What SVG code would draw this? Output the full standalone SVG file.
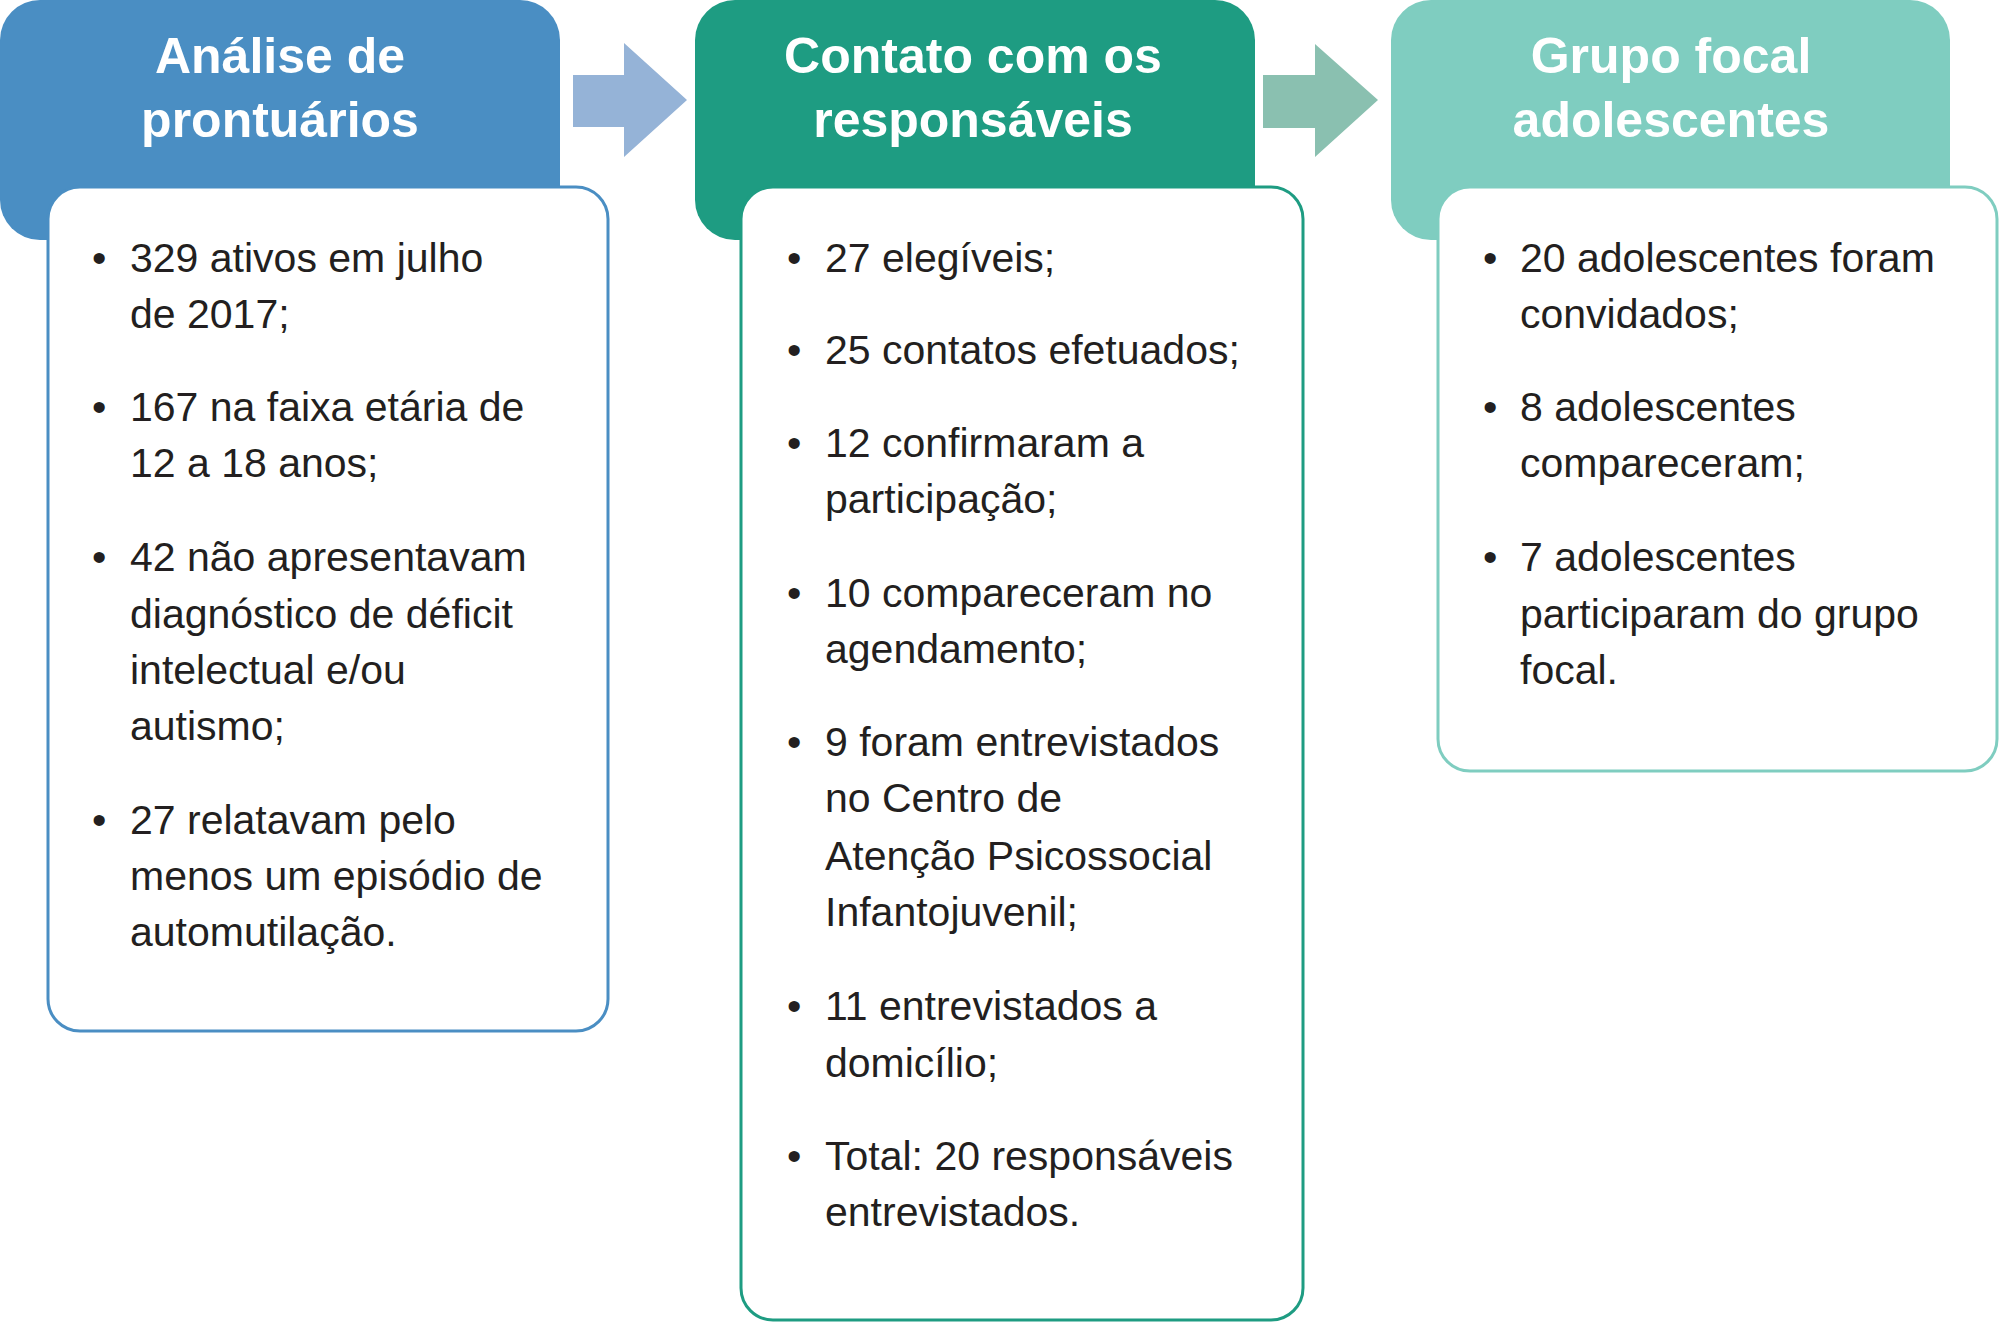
<svg xmlns="http://www.w3.org/2000/svg" width="2000" height="1323" viewBox="0 0 2000 1323">
<style>
.t{font-family:"Liberation Sans Narrow","Liberation Sans",sans-serif;font-weight:bold;font-size:50px;fill:#fff;text-anchor:middle}
.b{font-family:"Liberation Sans Narrow","Liberation Sans",sans-serif;font-size:41px;fill:#231f20}
.body{fill:#fff;stroke-width:3}
</style>
<rect width="2000" height="1323" fill="#fff"/>
<g id="connectors">
<polygon points="573,75 624,75 624,43 687,100 624,157 624,127 573,127" fill="#95b3d7"/>
<polygon points="1263,75 1315,75 1315,44 1378,100 1315,157 1315,128 1263,128" fill="#8ac0b0"/>
</g>
<g id="node1">
<rect x="0" y="0" width="560" height="240" rx="40" fill="#4a8ec3"/>
<text class="t" x="280" y="73">Análise de</text>
<text class="t" x="280" y="137">prontuários</text>
<rect class="body" x="48" y="187" width="560" height="844" rx="32" stroke="#4a8ec3"/>
<g class="b">
<text x="92" y="272">•</text><text x="130" y="272">329 ativos em julho</text><text x="130" y="328">de 2017;</text>
<text x="92" y="421">•</text><text x="130" y="421">167 na faixa etária de</text><text x="130" y="477">12 a 18 anos;</text>
<text x="92" y="571">•</text><text x="130" y="571">42 não apresentavam</text><text x="130" y="628">diagnóstico de déficit</text><text x="130" y="684">intelectual e/ou</text><text x="130" y="740">autismo;</text>
<text x="92" y="834">•</text><text x="130" y="834">27 relatavam pelo</text><text x="130" y="890">menos um episódio de</text><text x="130" y="946">automutilação.</text>
</g>
</g>
<g id="node2">
<rect x="695" y="0" width="560" height="240" rx="40" fill="#1e9c82"/>
<text class="t" x="973" y="73">Contato com os</text>
<text class="t" x="973" y="137">responsáveis</text>
<rect class="body" x="741" y="187" width="562" height="1133" rx="32" stroke="#1e9c82"/>
<g class="b">
<text x="787" y="272">•</text><text x="825" y="272">27 elegíveis;</text>
<text x="787" y="364">•</text><text x="825" y="364">25 contatos efetuados;</text>
<text x="787" y="457">•</text><text x="825" y="457">12 confirmaram a</text><text x="825" y="513">participação;</text>
<text x="787" y="607">•</text><text x="825" y="607">10 compareceram no</text><text x="825" y="663">agendamento;</text>
<text x="787" y="756">•</text><text x="825" y="756">9 foram entrevistados</text><text x="825" y="812">no Centro de</text><text x="825" y="870">Atenção Psicossocial</text><text x="825" y="926">Infantojuvenil;</text>
<text x="787" y="1020">•</text><text x="825" y="1020">11 entrevistados a</text><text x="825" y="1077">domicílio;</text>
<text x="787" y="1170">•</text><text x="825" y="1170">Total: 20 responsáveis</text><text x="825" y="1226">entrevistados.</text>
</g>
</g>
<g id="node3">
<rect x="1391" y="0" width="559" height="240" rx="40" fill="#7fcdc0"/>
<text class="t" x="1671" y="73">Grupo focal</text>
<text class="t" x="1671" y="137">adolescentes</text>
<rect class="body" x="1438" y="187" width="559" height="584" rx="32" stroke="#7fcdc0"/>
<g class="b">
<text x="1483" y="272">•</text><text x="1520" y="272">20 adolescentes foram</text><text x="1520" y="328">convidados;</text>
<text x="1483" y="421">•</text><text x="1520" y="421">8 adolescentes</text><text x="1520" y="477">compareceram;</text>
<text x="1483" y="571">•</text><text x="1520" y="571">7 adolescentes</text><text x="1520" y="628">participaram do grupo</text><text x="1520" y="684">focal.</text>
</g>
</g>
</svg>
